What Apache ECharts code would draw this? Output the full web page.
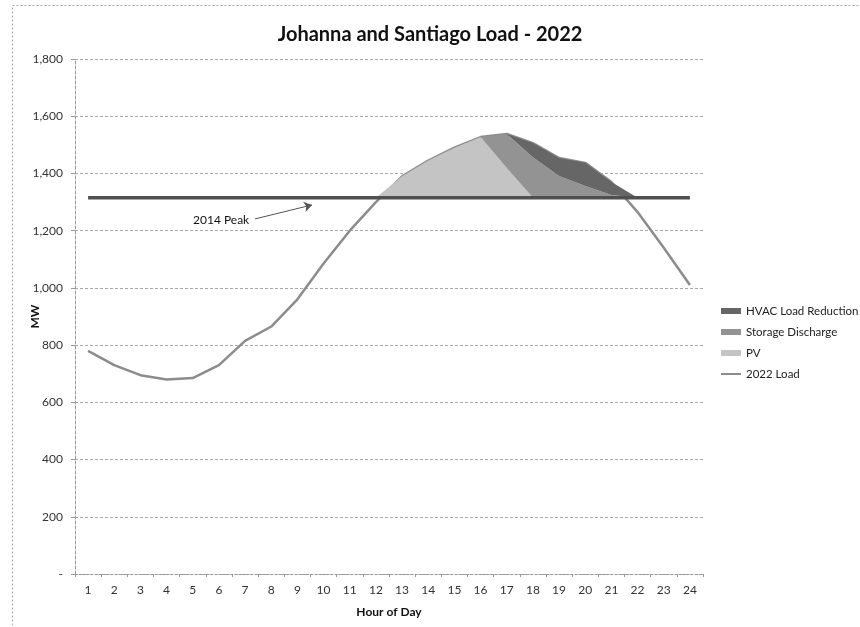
<!DOCTYPE html>
<html>
<head>
<meta charset="utf-8">
<script src="https://cdn.jsdelivr.net/npm/echarts@6/dist/echarts.min.js"></script>
<style>
  html, body { margin: 0; padding: 0; background: #fff; }
  #chart { width: 860px; height: 627px; }
</style>
</head>
<body>
<div id="chart"></div>
<script>
// hours of the day (category axis)
const hours = ["1", "2", "3", "4", "5", "6", "7", "8", "9", "10", "11", "12",
  "13", "14", "15", "16", "17", "18", "19", "20", "21", "22", "23", "24"];

// 2022 load, MW
const load2022 = [780, 730, 695, 680, 685, 730, 815, 865, 960, 1085, 1200, 1300,
  1390, 1445, 1490, 1527, 1538, 1506, 1454, 1437, 1370, 1265, 1140, 1010];

// 2014 peak, MW
const peak2014 = [1315, 1315, 1315, 1315, 1315, 1315, 1315, 1315, 1315, 1315, 1315, 1315,
  1315, 1315, 1315, 1315, 1315, 1315, 1315, 1315, 1315, 1315, 1315, 1315];

// load above the 2014 peak, split by resource (stacked on the peak)
const pv = [0, 0, 0, 0, 0, 0, 0, 0, 0, 0, 0, 0,
  75, 130, 175, 212, 104, 0, 0, 0, 0, 0, 0, 0];
const storageDischarge = [0, 0, 0, 0, 0, 0, 0, 0, 0, 0, 0, 0,
  0, 0, 0, 0, 119, 142, 76, 41, 10, 0, 0, 0];
const hvacReduction = [0, 0, 0, 0, 0, 0, 0, 0, 0, 0, 0, 0,
  0, 0, 0, 0, 0, 49, 63, 81, 45, 0, 0, 0];

// "2014 Peak" callout arrow, [hour, MW] start and end
const peakNoteFrom = [7.38, 1241];
const peakNoteTo = [9.56, 1290];

const FONT = "Lato";
const chart = echarts.init(document.getElementById("chart"));

chart.setOption({
  backgroundColor: "#fff",
  animation: false,
  textStyle: { fontFamily: FONT },
  title: {
    text: "Johanna and Santiago Load - 2022",
    left: "center",
    top: 20,
    textStyle: { fontFamily: FONT, fontSize: 20, fontWeight: "bold", color: "#111" },
  },
  legend: {
    orient: "vertical",
    left: 716,
    top: 300,
    itemWidth: 20,
    itemHeight: 6,
    itemGap: 9,
    textStyle: { fontFamily: FONT, fontSize: 11.5, color: "#222" },
    data: [
      { name: "HVAC Load Reduction", icon: "rect" },
      { name: "Storage Discharge", icon: "rect" },
      { name: "PV", icon: "rect" },
      { name: "2022 Load", icon: "path://M0 2h20v2H0z" },
    ],
  },
  grid: { left: 75, right: 157, top: 59, bottom: 53 },
  xAxis: [
    {
      type: "category",
      data: hours,
      boundaryGap: true,
      name: "Hour of Day",
      nameLocation: "middle",
      nameGap: 32,
      nameTextStyle: { fontFamily: FONT, fontSize: 12, fontWeight: "bold", color: "#111" },
      axisLine: { lineStyle: { color: "#999", type: [2, 2] } },
      axisTick: { show: true, length: 3, lineStyle: { color: "#999" } },
      axisLabel: { margin: 10, fontFamily: FONT, fontSize: 12, color: "#333" },
      splitLine: { show: false },
    },
    {
      // hidden numeric twin of the hour axis, for the callout arrow
      type: "value",
      min: 0.5,
      max: 24.5,
      show: false,
    },
  ],
  yAxis: {
    type: "value",
    min: 0,
    max: 1800,
    interval: 200,
    name: "MW",
    nameLocation: "middle",
    nameGap: 34,
    nameMoveOverlap: false,
    nameTextStyle: { fontFamily: FONT, fontSize: 12, fontWeight: "bold", color: "#111" },
    axisLine: { show: true, lineStyle: { color: "#999", type: [3, 2] } },
    axisTick: { show: true, length: 4, lineStyle: { color: "#999" } },
    axisLabel: {
      margin: 12,
      fontFamily: FONT,
      fontSize: 12,
      color: "#333",
      formatter: (v) => (v === 0 ? "-" : v.toLocaleString("en-US")),
    },
    splitLine: { lineStyle: { color: "#aaa", type: [3, 2], width: 1 } },
  },
  series: [
    {
      name: "2022 Load",
      type: "line",
      data: load2022,
      symbol: "none",
      z: 2,
      itemStyle: { color: "#8c8c8c" },
      lineStyle: { color: "#8c8c8c", width: 2.5 },
    },
    {
      name: "2014 Peak",
      type: "line",
      data: peak2014,
      stack: "overPeak",
      symbol: "none",
      z: 5,
      itemStyle: { color: "#505050" },
      lineStyle: { color: "#505050", width: 3.5 },
    },
    {
      name: "PV",
      type: "line",
      data: pv,
      stack: "overPeak",
      symbol: "none",
      z: 3,
      itemStyle: { color: "#c4c4c4" },
      lineStyle: { width: 0 },
      areaStyle: { color: "#c4c4c4", opacity: 1 },
    },
    {
      name: "Storage Discharge",
      type: "line",
      data: storageDischarge,
      stack: "overPeak",
      symbol: "none",
      z: 3,
      itemStyle: { color: "#939393" },
      lineStyle: { width: 0 },
      areaStyle: { color: "#939393", opacity: 1 },
    },
    {
      name: "HVAC Load Reduction",
      type: "line",
      data: hvacReduction,
      stack: "overPeak",
      symbol: "none",
      z: 3,
      itemStyle: { color: "#666" },
      lineStyle: { width: 0 },
      areaStyle: { color: "#666", opacity: 1 },
    },
    {
      name: "peakNote",
      type: "line",
      xAxisIndex: 1,
      data: [],
      silent: true,
      markLine: {
        silent: true,
        symbol: ["none", "arrow"],
        symbolSize: 8,
        lineStyle: { color: "#555", width: 1, type: "solid" },
        label: {
          show: true,
          position: "start",
          distance: 6,
          formatter: "2014 Peak",
          fontFamily: FONT,
          fontSize: 12,
          color: "#111",
        },
        data: [[{ coord: peakNoteFrom }, { coord: peakNoteTo }]],
      },
    },
  ],
  graphic: [
    {
      type: "rect",
      left: 10,
      top: 3,
      shape: { width: 870, height: 640 },
      silent: true,
      style: { fill: null, stroke: "#aaa", lineWidth: 1, lineDash: [2, 2] },
    },
  ],
});
</script>
</body>
</html>
